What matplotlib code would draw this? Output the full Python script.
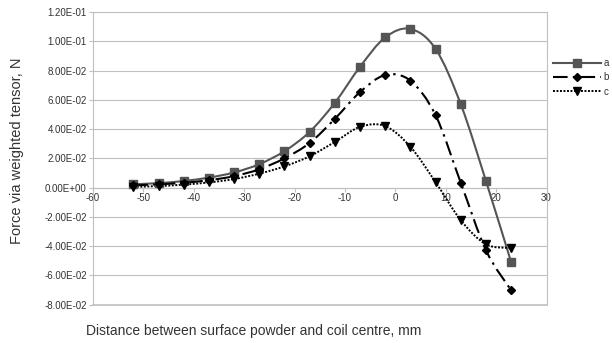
import matplotlib
matplotlib.use("Agg")
import matplotlib.pyplot as plt
import numpy as np
from matplotlib.lines import Line2D
from matplotlib.patches import PathPatch
from matplotlib.path import Path
from matplotlib.ticker import FuncFormatter, MultipleLocator

plt.rcParams["font.family"] = ["Liberation Sans", "DejaVu Sans"]

# distance between surface powder and coil centre, mm
distance = [-52, -47, -42, -37, -32, -27, -22, -17, -12, -7, -2, 3, 8, 13, 18, 23]

# force via weighted tensor, N
force_a = [0.0023, 0.0030, 0.0045, 0.0068, 0.0103, 0.0160, 0.0249, 0.0381,
           0.0580, 0.0826, 0.1027, 0.1084, 0.0947, 0.0568, 0.0043, -0.0512]
force_b = [0.0015, 0.0022, 0.0033, 0.0050, 0.0078, 0.0125, 0.0200, 0.0305,
           0.0470, 0.0653, 0.0769, 0.0730, 0.0493, 0.0031, -0.0430, -0.0703]
force_c = [0.0005, 0.0010, 0.0020, 0.0035, 0.0058, 0.0095, 0.0145, 0.0214,
           0.0312, 0.0415, 0.0420, 0.0278, 0.0036, -0.0224, -0.0388, -0.0413]

labels = ["a", "b", "c"]

TEXT = "#333333"
GRID = "#c0c0c0"


def smooth_path(x, y):
    # Excel style smoothed line: cubic bezier segments through every point
    pts = np.column_stack([x, y]).astype(float)
    ext = np.vstack([pts[0], pts, pts[-1]])
    verts = [pts[0]]
    codes = [Path.MOVETO]
    for i in range(len(pts) - 1):
        p0, p1, p2, p3 = ext[i], ext[i + 1], ext[i + 2], ext[i + 3]
        verts += [p1 + (p2 - p0) / 6, p2 - (p3 - p1) / 6, p2]
        codes += [Path.CURVE4] * 3
    return Path(verts, codes)


fig = plt.figure(figsize=(6.12, 3.43), dpi=100)
ax = fig.add_axes([0.152, 0.112, 0.741, 0.853])

styles = [
    dict(color="#555555", lw=1.5, ls="-", marker="s", ms=6),
    dict(color="black", lw=1.5, ls=(0, (7, 2.5, 1.2, 2.5)), marker="D", ms=4.5),
    dict(color="black", lw=1.4, ls=(0, (1, 0.8)), marker="v", ms=6),
]

handles = []
for yv, st, lab in zip([force_a, force_b, force_c], styles, labels):
    patch = PathPatch(smooth_path(distance, yv), fill=False, edgecolor=st["color"],
                      lw=st["lw"], linestyle=st["ls"], zorder=3)
    ax.add_patch(patch)
    ax.plot(distance, yv, ls="none", marker=st["marker"], ms=st["ms"],
            color=st["color"], zorder=4)
    handles.append(Line2D([], [], color=st["color"], lw=st["lw"], ls=st["ls"],
                          marker=st["marker"], ms=st["ms"], label=lab))

ax.set_xlim(-60, 30)
ax.set_ylim(-0.08, 0.12)
ax.xaxis.set_major_locator(MultipleLocator(10))
ax.yaxis.set_major_locator(MultipleLocator(0.02))
ax.yaxis.set_major_formatter(FuncFormatter(lambda v, p: f"{v:.2E}"))
ax.xaxis.set_major_formatter(FuncFormatter(lambda v, p: f"{v:.0f}"))

ax.grid(axis="y", color=GRID, lw=0.8)
ax.set_axisbelow(True)
for side in ["left", "right", "top", "bottom"]:
    ax.spines[side].set_color(GRID)
    ax.spines[side].set_linewidth(0.8)
ax.spines["bottom"].set_position(("data", 0))
ax.axhline(-0.08, color=GRID, lw=1.2, clip_on=False)

ax.tick_params(axis="both", colors=GRID, labelcolor=TEXT, labelsize=7,
               length=3, width=0.8, direction="out")
ax.tick_params(axis="x", pad=1)
ax.tick_params(axis="y", pad=1.5)

fig.text(0.415, 0.035, "Distance between surface powder and coil centre, mm",
         ha="center", va="center", fontsize=10, color=TEXT)
fig.text(0.027, 0.56, "Force via weighted tensor, N", rotation=90,
         ha="center", va="center", fontsize=10.5, color=TEXT)

fig.legend(handles=handles, loc="upper left", bbox_to_anchor=(0.895, 0.845),
           frameon=False, fontsize=7, handlelength=5.0, handletextpad=0.25,
           borderpad=0, labelspacing=0.45, labelcolor=TEXT)

fig.savefig("out.png", dpi=100)
